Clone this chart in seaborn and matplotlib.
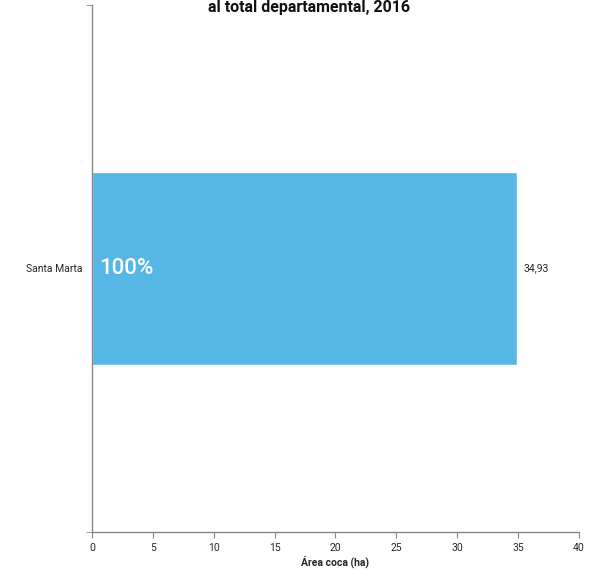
import matplotlib
matplotlib.use("Agg")
import matplotlib.pyplot as plt
import seaborn as sns
import pandas as pd

municipios = ["Santa Marta"]
area_coca = [34.93]
porcentaje = ["100%"]
xticks = [0, 5, 10, 15, 20, 25, 30, 35, 40]

sns.set_style("white")
plt.rcParams['font.family'] = ['Roboto', 'DejaVu Sans']

df = pd.DataFrame({"municipio": municipios, "area": area_coca})

fig = plt.figure(figsize=(5.97, 5.73), dpi=100)
ax = fig.add_axes([0.1541, 0.0716, 0.8157, 0.9197])
sns.barplot(data=df, x="area", y="municipio", orient="h", color="#56B7E6",
            saturation=1, width=0.365, ax=ax)

for i, (v, p) in enumerate(zip(area_coca, porcentaje)):
    ax.text(v + 0.55, i, f"{v:.2f}".replace(".", ","), va="center", ha="left",
            fontsize=7.5, color="#222222")
    ax.text(0.55, i, p, va="center", ha="left", fontsize=16, color="white",
            fontweight="medium")

ax.set_xlim(0, 40)
ax.set_ylim(0.5, -0.5)
ax.set_xticks(xticks)
ax.set_xticklabels([str(t) for t in xticks], fontsize=7.5)
ax.tick_params(axis="y", labelsize=7.5, length=0, pad=7)
ax.tick_params(axis="x", bottom=True, length=4, color="#888888", pad=4)
ax.set_yticks([-0.5, 0.5], minor=True)
ax.tick_params(axis="y", which="minor", left=True, length=4, color="#888888")
ax.set_xlabel("Área coca (ha)", fontsize=7.5, fontweight="bold", labelpad=2)
ax.set_ylabel("")
for s in ["top", "right"]:
    ax.spines[s].set_visible(False)
for s in ["left", "bottom"]:
    ax.spines[s].set_color("#888888")
    ax.spines[s].set_linewidth(1)

fig.text(0.517, 0.987, "al total departamental, 2016", ha="center", va="center",
         fontsize=11.5, fontweight="bold", color="#111111")

fig.savefig("out.png", dpi=100)
